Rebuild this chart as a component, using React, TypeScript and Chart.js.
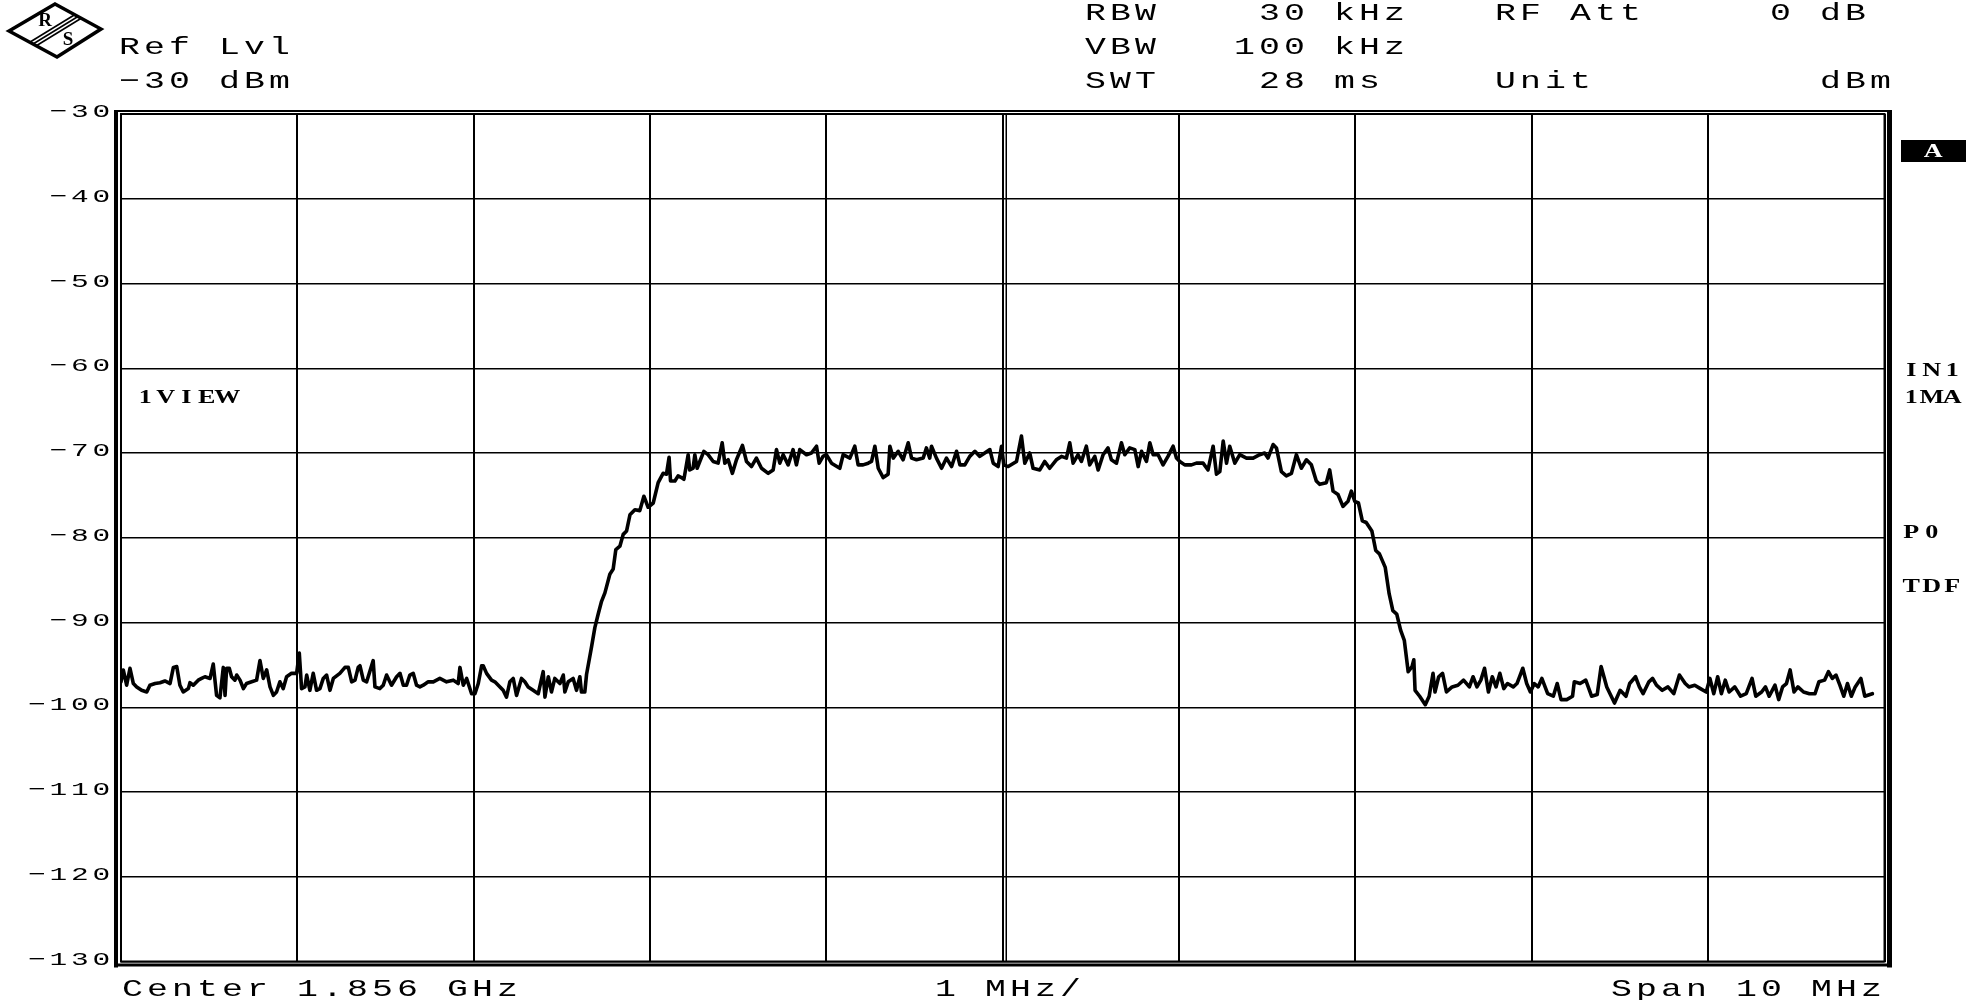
import React, { useEffect, useRef } from 'react';
import { Chart, registerables } from 'chart.js';

Chart.register(...registerables);

// ---- Trace data: [frequency offset from centre (MHz), level (dBm)] ----
const noiseLeft: [number, number][] = [
  [-5.000, -97.0], [-4.987, -95.6], [-4.968, -97.4], [-4.949, -95.4], [-4.930, -97.2], [-4.911, -97.6],
  [-4.883, -98.0], [-4.854, -98.2], [-4.836, -97.4], [-4.807, -97.2], [-4.779, -97.1], [-4.751, -96.9],
  [-4.722, -97.2], [-4.703, -95.3], [-4.684, -95.2], [-4.666, -97.4], [-4.647, -98.2], [-4.618, -97.8],
  [-4.609, -97.1], [-4.590, -97.4], [-4.562, -96.8], [-4.543, -96.6], [-4.524, -96.4], [-4.495, -96.6],
  [-4.477, -94.9], [-4.458, -98.6], [-4.439, -98.9], [-4.420, -95.3], [-4.410, -98.6], [-4.401, -95.4],
  [-4.386, -95.4], [-4.373, -96.4], [-4.354, -96.8], [-4.344, -96.2], [-4.325, -96.8], [-4.306, -97.8],
  [-4.288, -97.2], [-4.259, -97.0], [-4.231, -96.8], [-4.212, -94.5], [-4.193, -96.6], [-4.174, -95.6],
  [-4.155, -97.6], [-4.136, -98.6], [-4.118, -98.2], [-4.099, -97.0], [-4.080, -97.8], [-4.061, -96.4],
  [-4.033, -96.0], [-4.004, -96.0], [-3.989, -93.6], [-3.976, -97.8], [-3.957, -97.6], [-3.947, -96.2],
  [-3.929, -98.0], [-3.910, -96.0], [-3.891, -98.0], [-3.872, -97.8], [-3.853, -96.6], [-3.834, -96.2],
  [-3.815, -98.0], [-3.796, -96.6], [-3.759, -96.0], [-3.730, -95.3], [-3.711, -95.3], [-3.692, -97.0],
  [-3.673, -96.8], [-3.655, -95.3], [-3.645, -95.1], [-3.626, -96.8], [-3.607, -97.0], [-3.570, -94.5],
  [-3.560, -97.6], [-3.532, -97.8], [-3.513, -97.4], [-3.494, -96.2], [-3.466, -97.4], [-3.437, -96.4],
  [-3.418, -96.0], [-3.399, -97.4], [-3.381, -97.4], [-3.362, -96.2], [-3.343, -96.0], [-3.324, -97.4],
  [-3.305, -97.6], [-3.286, -97.4], [-3.258, -97.0], [-3.229, -97.0], [-3.192, -96.6], [-3.154, -97.0],
  [-3.116, -96.8], [-3.088, -97.2], [-3.078, -95.3], [-3.059, -97.4], [-3.040, -96.6], [-3.012, -98.4],
  [-2.993, -98.4], [-2.974, -97.2], [-2.955, -95.1], [-2.946, -95.1], [-2.927, -96.0], [-2.899, -96.8],
  [-2.880, -97.0], [-2.851, -97.6], [-2.833, -98.0], [-2.814, -98.8], [-2.795, -97.0], [-2.776, -96.6],
  [-2.757, -98.6], [-2.729, -96.6], [-2.710, -97.0], [-2.691, -97.6], [-2.663, -98.0], [-2.634, -98.4],
  [-2.606, -95.8], [-2.596, -98.8], [-2.577, -96.4], [-2.559, -98.2], [-2.540, -96.6], [-2.511, -97.2],
  [-2.492, -96.2], [-2.483, -98.2], [-2.464, -97.0], [-2.436, -96.6], [-2.417, -98.0], [-2.398, -96.4],
  [-2.389, -98.2], [-2.370, -98.2],
];

const riseAndTop: [number, number][] = [
  [-2.360, -96.1], [-2.332, -92.9], [-2.313, -90.6], [-2.294, -89.0], [-2.275, -87.5], [-2.256, -86.5],
  [-2.228, -84.3], [-2.209, -83.7], [-2.194, -81.4], [-2.171, -81.0], [-2.152, -79.6], [-2.133, -79.2],
  [-2.114, -77.3], [-2.086, -76.7], [-2.058, -76.8], [-2.035, -75.1], [-2.011, -76.4], [-1.982, -75.9],
  [-1.954, -73.5], [-1.926, -72.4], [-1.907, -72.5], [-1.892, -70.5], [-1.884, -73.3], [-1.859, -73.3],
  [-1.841, -72.7], [-1.822, -72.9], [-1.808, -73.1], [-1.797, -71.8], [-1.784, -70.2], [-1.775, -72.0],
  [-1.756, -71.8], [-1.746, -70.2], [-1.733, -71.8], [-1.718, -71.0], [-1.695, -69.8], [-1.671, -70.2],
  [-1.642, -71.0], [-1.614, -71.2], [-1.591, -68.8], [-1.576, -71.2], [-1.557, -70.8], [-1.533, -72.4],
  [-1.510, -70.8], [-1.476, -69.1], [-1.453, -71.0], [-1.425, -71.6], [-1.397, -70.6], [-1.368, -71.8],
  [-1.330, -72.4], [-1.302, -72.0], [-1.283, -69.6], [-1.264, -71.2], [-1.245, -70.2], [-1.217, -71.4],
  [-1.189, -69.6], [-1.170, -71.4], [-1.151, -69.6], [-1.113, -70.2], [-1.085, -70.0], [-1.056, -69.2],
  [-1.041, -71.2], [-1.019, -70.4], [-1.000, -70.2], [-0.971, -71.2], [-0.924, -71.8], [-0.905, -70.2],
  [-0.867, -70.6], [-0.839, -69.2], [-0.820, -71.4], [-0.792, -71.4], [-0.763, -71.2], [-0.744, -71.0],
  [-0.725, -69.2], [-0.706, -71.8], [-0.678, -72.9], [-0.650, -72.5], [-0.640, -69.2], [-0.621, -70.6],
  [-0.593, -69.8], [-0.565, -70.8], [-0.536, -68.8], [-0.517, -70.6], [-0.489, -70.8], [-0.451, -70.6],
  [-0.433, -69.4], [-0.414, -70.6], [-0.404, -69.2], [-0.376, -70.6], [-0.347, -71.8], [-0.319, -70.6],
  [-0.290, -71.6], [-0.262, -69.8], [-0.243, -71.4], [-0.215, -71.4], [-0.187, -70.4], [-0.158, -69.8],
  [-0.130, -70.4], [-0.102, -70.0], [-0.073, -69.6], [-0.054, -71.2], [-0.026, -71.6], [-0.007, -69.2],
  [0.006, -71.4], [0.031, -71.6], [0.078, -71.0], [0.106, -68.0], [0.125, -71.2], [0.153, -70.0],
  [0.172, -71.8], [0.210, -72.0], [0.238, -71.0], [0.266, -71.8], [0.304, -70.8],
];

const topRight: [number, number][] = [
  [0.333, -70.4], [0.361, -70.6], [0.380, -68.8], [0.399, -71.2], [0.427, -70.2], [0.446, -71.0],
  [0.474, -69.2], [0.493, -71.4], [0.522, -70.4], [0.541, -72.0], [0.569, -70.2], [0.597, -69.4],
  [0.616, -70.8], [0.645, -71.2], [0.673, -68.8], [0.692, -70.2], [0.720, -69.4], [0.749, -69.6],
  [0.768, -71.6], [0.787, -69.8], [0.815, -71.0], [0.834, -68.8], [0.853, -70.2], [0.881, -70.2],
  [0.909, -71.4], [0.937, -70.4], [0.966, -69.2], [0.985, -70.6], [1.004, -71.0], [1.032, -71.4],
  [1.070, -71.4], [1.098, -71.2], [1.136, -71.2], [1.164, -72.0], [1.193, -69.2], [1.212, -72.5],
  [1.231, -72.2], [1.250, -68.6], [1.269, -71.2], [1.287, -69.2], [1.316, -71.2], [1.344, -70.2],
  [1.382, -70.6], [1.420, -70.6], [1.457, -70.2], [1.485, -70.0], [1.504, -70.6], [1.533, -69.0],
  [1.552, -69.4], [1.580, -72.2], [1.608, -72.7], [1.637, -72.4], [1.665, -70.2], [1.693, -71.8],
  [1.722, -70.8], [1.750, -71.4], [1.778, -73.3], [1.797, -73.7], [1.835, -73.5], [1.854, -72.0],
  [1.873, -74.5], [1.901, -74.9], [1.929, -76.3], [1.958, -75.7], [1.977, -74.5], [1.996, -75.7],
];

const fallAndNoiseRight: [number, number][] = [
  [2.017, -75.9], [2.039, -78.0], [2.061, -78.2], [2.093, -79.2], [2.115, -81.5], [2.136, -81.9],
  [2.169, -83.5], [2.191, -86.6], [2.212, -88.6], [2.234, -89.0], [2.256, -90.9], [2.277, -92.1],
  [2.299, -95.8], [2.321, -95.2], [2.331, -94.4], [2.338, -98.0], [2.364, -98.7], [2.396, -99.7],
  [2.418, -98.7], [2.440, -96.0], [2.451, -98.2], [2.472, -96.4], [2.494, -96.0], [2.516, -98.2],
  [2.548, -97.6], [2.581, -97.4], [2.613, -96.8], [2.646, -97.6], [2.667, -96.4], [2.689, -97.6],
  [2.711, -96.8], [2.732, -95.4], [2.754, -98.2], [2.776, -96.4], [2.797, -97.6], [2.819, -96.0],
  [2.841, -97.8], [2.862, -97.2], [2.895, -97.6], [2.916, -97.2], [2.949, -95.4], [2.971, -97.2],
  [2.992, -98.2], [3.014, -97.2], [3.036, -97.6], [3.057, -96.6], [3.090, -98.4], [3.122, -98.7],
  [3.144, -97.2], [3.166, -99.1], [3.198, -99.1], [3.231, -98.7], [3.241, -97.0], [3.274, -97.2],
  [3.306, -96.8], [3.339, -98.7], [3.371, -98.5], [3.393, -95.2], [3.425, -97.6], [3.469, -99.5],
  [3.501, -98.0], [3.534, -98.7], [3.555, -97.2], [3.588, -96.4], [3.610, -97.6], [3.631, -98.4],
  [3.664, -97.0], [3.685, -96.6], [3.707, -97.4], [3.740, -98.0], [3.772, -97.6], [3.805, -98.4],
  [3.837, -96.2], [3.870, -97.2], [3.891, -97.6], [3.924, -97.4], [3.956, -97.8], [3.989, -98.2],
  [4.010, -96.6], [4.032, -98.4], [4.054, -96.4], [4.075, -98.4], [4.097, -96.8], [4.119, -98.2],
  [4.151, -97.6], [4.184, -98.7], [4.216, -98.4], [4.249, -96.6], [4.270, -98.7], [4.303, -98.2],
  [4.325, -97.6], [4.346, -98.7], [4.379, -97.4], [4.400, -99.1], [4.422, -97.6], [4.444, -97.2],
  [4.465, -95.6], [4.487, -98.2], [4.509, -97.6], [4.541, -98.2], [4.574, -98.4], [4.606, -98.4],
  [4.628, -97.0], [4.660, -96.8], [4.682, -95.8], [4.704, -96.6], [4.725, -96.2], [4.747, -97.4],
  [4.769, -98.7], [4.790, -97.2], [4.812, -98.7], [4.834, -97.6], [4.866, -96.6], [4.888, -98.7],
  [4.931, -98.4],
];

// ---- Axes ----
const yTickValues = [-30, -40, -50, -60, -70, -80, -90, -100, -110, -120, -130];
const xMinMHz = -5;
const xMaxMHz = 5;
const xDivMHz = 1;

// ---- Annotation texts ----
const headerRows = [
  ['RBW', '30 kHz', 'RF Att', '0 dB'],
  ['VBW', '100 kHz', '', ''],
  ['SWT', '28 ms', 'Unit', 'dBm'],
];
const refLevelTexts = ['Ref Lvl', '\u221230 dBm'];
const footerTexts = ['Center 1.856 GHz', '1 MHz/', 'Span 10 MHz'];
const sideTexts = ['IN1', '1MA', 'P0', 'TDF'];
const traceLabel = '1VIEW';
const traceTag = 'A';

const MONO = '"Liberation Mono", "DejaVu Sans Mono", monospace';
const SERIF = '"Liberation Serif", "DejaVu Serif", serif';

function spaced(
  ctx: CanvasRenderingContext2D,
  text: string,
  left: number,
  baseY: number,
  pitch: number,
  size: number,
  sx: number,
  family: string,
  weight = 'normal',
  color = '#000'
) {
  ctx.save();
  ctx.fillStyle = color;
  ctx.font = `${weight} ${size}px ${family}`;
  ctx.textAlign = 'center';
  ctx.textBaseline = 'alphabetic';
  for (let i = 0; i < text.length; i++) {
    const ch = text[i];
    if (ch === ' ') continue;
    ctx.save();
    ctx.translate(left + pitch * i + pitch / 2, baseY);
    ctx.scale(sx, 1);
    ctx.fillText(ch, 0, 0);
    ctx.restore();
  }
  ctx.restore();
}

function drawLogo(ctx: CanvasRenderingContext2D) {
  const L = [9, 31], T = [55, 4], R = [101, 29], B = [57, 57];
  ctx.save();
  ctx.beginPath();
  ctx.moveTo(L[0], L[1]);
  ctx.lineTo(T[0], T[1]);
  ctx.lineTo(R[0], R[1]);
  ctx.lineTo(B[0], B[1]);
  ctx.closePath();
  ctx.lineWidth = 3.5;
  ctx.strokeStyle = '#000';
  ctx.lineJoin = 'miter';
  ctx.stroke();
  ctx.clip();
  const m1 = [(L[0] + B[0]) / 2, (L[1] + B[1]) / 2];
  const m2 = [(T[0] + R[0]) / 2, (T[1] + R[1]) / 2];
  const dx = m2[0] - m1[0], dy = m2[1] - m1[1];
  const len = Math.hypot(dx, dy);
  const ux = dx / len, uy = dy / len;
  const nx = -uy, ny = ux;
  ctx.lineWidth = 1.6;
  for (const off of [-3.2, 0, 3.2]) {
    ctx.beginPath();
    ctx.moveTo(m1[0] - ux * 10 + nx * off, m1[1] - uy * 10 + ny * off);
    ctx.lineTo(m2[0] + ux * 10 + nx * off, m2[1] + uy * 10 + ny * off);
    ctx.stroke();
  }
  ctx.restore();
  ctx.save();
  ctx.fillStyle = '#000';
  ctx.font = `bold 19px ${SERIF}`;
  ctx.textAlign = 'center';
  ctx.textBaseline = 'middle';
  ctx.fillText('R', 45, 21);
  ctx.fillText('S', 68, 40);
  ctx.restore();
}

const decorPlugin = {
  id: 'rsDecor',
  beforeDraw(chart: any) {
    const ctx = chart.ctx as CanvasRenderingContext2D;
    ctx.save();
    ctx.fillStyle = '#fff';
    ctx.fillRect(0, 0, chart.width, chart.height);
    ctx.restore();
  },
  afterDraw(chart: any) {
    const ctx = chart.ctx as CanvasRenderingContext2D;
    const ca = chart.chartArea;
    const xs = chart.scales.x;
    const ys = chart.scales.y;

    // second line of centre double line
    const cx = xs.getPixelForValue(0);
    ctx.save();
    ctx.strokeStyle = '#000';
    ctx.lineWidth = 1.5;
    ctx.beginPath();
    ctx.moveTo(cx + 3.5, ca.top);
    ctx.lineTo(cx + 3.5, ca.bottom);
    ctx.stroke();

    // double frame
    ctx.lineWidth = 2;
    ctx.strokeRect(ca.left, ca.top, ca.right - ca.left, ca.bottom - ca.top);
    ctx.fillStyle = '#000';
    ctx.fillRect(ca.left - 7, ca.top - 4, 4, ca.bottom - ca.top + 10);
    ctx.fillRect(ca.left - 7, ca.top - 4, ca.right - ca.left + 14, 2);
    ctx.fillRect(ca.right + 2.5, ca.top - 4, 5, ca.bottom - ca.top + 10);
    ctx.fillRect(ca.left - 7, ca.bottom + 2, ca.right - ca.left + 14, 3);
    ctx.restore();

    // y tick labels
    for (const v of yTickValues) {
      const label = String(v).replace('-', '\u2212');
      const pitch = 21.5;
      const py = ys.getPixelForValue(v);
      spaced(ctx, label, 112 - label.length * pitch, py + 3, pitch, 19, 1.55, MONO);
    }

    // header
    const hp = 25, hs = 24, hsx = 1.45;
    const rowBase = [19.5, 53.5, 87.5];
    const colLeft = [1083, 1257, 1493, 1768];
    headerRows.forEach((row, r) => {
      row.forEach((t, c) => {
        if (!t) return;
        let left = colLeft[c];
        if (c === 1 && t.length === 7) left = colLeft[1] - hp;
        if (c === 3 && t === 'dBm') left = colLeft[3] + 2 * hp;
        spaced(ctx, t, left, rowBase[r], hp, hs, hsx, MONO);
      });
    });
    spaced(ctx, refLevelTexts[0], 117, rowBase[1], hp, hs, hsx, MONO);
    spaced(ctx, refLevelTexts[1], 117, rowBase[2], hp, hs, hsx, MONO);

    // footer
    const fb = 996;
    spaced(ctx, footerTexts[0], 120, fb, hp, hs, hsx, MONO);
    spaced(ctx, footerTexts[1], 933, fb, hp, hs, hsx, MONO);
    spaced(ctx, footerTexts[2], 1609, fb, hp, hs, hsx, MONO);

    // side labels
    const sp = 20.5, ss = 18, ssx = 1.45;
    const sideBase = [376, 403, 538, 592];
    sideTexts.forEach((t, i) => spaced(ctx, t, 1901, sideBase[i], sp, ss, ssx, SERIF, 'bold'));
    spaced(ctx, traceLabel, 135, 403, sp, ss, ssx, SERIF, 'bold');

    // trace tag box
    ctx.save();
    ctx.fillStyle = '#000';
    ctx.fillRect(1901, 140, 65, 22);
    ctx.restore();
    spaced(ctx, traceTag, 1923, 157, sp, ss, ssx, SERIF, 'bold', '#fff');

    drawLogo(ctx);
  },
};

export default function App() {
  const ref = useRef<HTMLCanvasElement | null>(null);
  useEffect(() => {
    if (!ref.current) return;
    const points = [...noiseLeft, ...riseAndTop, ...topRight, ...fallAndNoiseRight].map(([x, y]) => ({ x, y }));
    const chart = new Chart(ref.current, {
      type: 'line',
      data: {
        datasets: [
          {
            data: points,
            borderColor: '#000',
            borderWidth: 3.6,
            pointRadius: 0,
            tension: 0,
            borderJoinStyle: 'round',
            borderCapStyle: 'round',
            fill: false,
          },
        ],
      },
      options: {
        animation: false,
        responsive: false,
        maintainAspectRatio: false,
        devicePixelRatio: 1,
        parsing: false,
        layout: { padding: { left: 121, top: 114, right: 101.5, bottom: 38.5 } },
        plugins: { legend: { display: false }, tooltip: { enabled: false } },
        scales: {
          x: {
            type: 'linear',
            min: xMinMHz,
            max: xMaxMHz,
            ticks: { stepSize: xDivMHz, display: false },
            grid: { color: '#000', lineWidth: 2, drawTicks: false },
            border: { display: false },
          },
          y: {
            type: 'linear',
            min: -130,
            max: -30,
            ticks: { stepSize: 10, display: false },
            grid: { color: '#000', lineWidth: 1.5, drawTicks: false },
            border: { display: false },
          },
        },
      },
      plugins: [decorPlugin],
    });
    return () => chart.destroy();
  }, []);
  return (
    <div style={{ position: 'absolute', left: 0, top: 0, width: 1986, height: 1000 }}>
      <canvas ref={ref} width={1986} height={1000} style={{ display: 'block' }} />
    </div>
  );
}
